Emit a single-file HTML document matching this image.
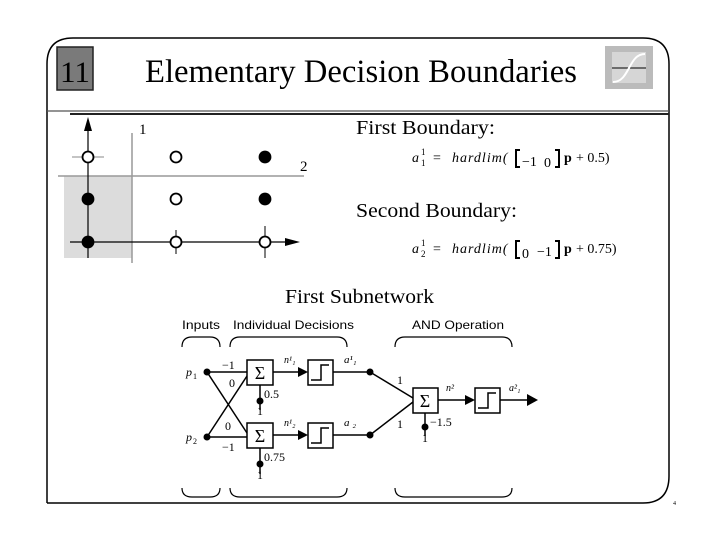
<!DOCTYPE html>
<html><head><style>
body{margin:0;background:#fff;width:720px;height:540px;overflow:hidden}
svg{display:block}
.s{font-family:"Liberation Serif",serif}
.h{font-family:"Liberation Sans",sans-serif}
</style></head><body>
<svg width="720" height="540" viewBox="0 0 720 540">
<!-- frame -->
<path d="M47,503 L47,64 Q47,38 73,38 L643,38 Q669,38 669,64 L669,476 Q669,503 643,503 L47,503" fill="none" stroke="#000" stroke-width="1.5"/>
<line x1="47" y1="111" x2="669" y2="111" stroke="#555" stroke-width="1.2"/>
<line x1="70" y1="114" x2="669" y2="114" stroke="#222" stroke-width="2"/>
<rect x="57" y="47" width="36" height="43" fill="#7a7a7a" stroke="#222" stroke-width="1.5"/>
<text x="75" y="82" class="s" font-size="30" text-anchor="middle" textLength="30" lengthAdjust="spacingAndGlyphs">11</text>
<text x="145" y="82" class="s" font-size="33" textLength="432" lengthAdjust="spacingAndGlyphs">Elementary Decision Boundaries</text>
<rect x="605" y="46" width="48" height="43" fill="#bbb"/>
<rect x="612" y="52" width="34" height="31" fill="#d6d6d6"/>
<line x1="612" y1="68" x2="646" y2="68" stroke="#000"/>
<path d="M613,82 C630,82 628,54 645,54" fill="none" stroke="#fff" stroke-width="2"/>
<!-- plot -->
<rect x="64" y="176" width="68" height="82" fill="#dcdcdc"/>
<line x1="132" y1="133" x2="132" y2="263" stroke="#999" stroke-width="1.5"/>
<line x1="58" y1="176" x2="304" y2="176" stroke="#999" stroke-width="1.5"/>
<line x1="88" y1="258" x2="88" y2="128" stroke="#000" stroke-width="1.2"/>
<polygon points="88,117 84,131 92,131" fill="#000"/>
<line x1="70" y1="242" x2="288" y2="242" stroke="#000" stroke-width="1.2"/>
<polygon points="300,242 285,238 285,246" fill="#000"/>
<line x1="72" y1="157" x2="104" y2="157" stroke="#888"/>
<line x1="176" y1="230" x2="176" y2="254" stroke="#000"/>
<line x1="265" y1="226" x2="265" y2="258" stroke="#000"/>
<g stroke="#000" stroke-width="1.8">
<circle cx="88" cy="157" r="5.5" fill="#fff"/>
<circle cx="176" cy="157" r="5.5" fill="#fff"/>
<circle cx="265" cy="157" r="5.5" fill="#000"/>
<circle cx="88" cy="199" r="5.5" fill="#000"/>
<circle cx="176" cy="199" r="5.5" fill="#fff"/>
<circle cx="265" cy="199" r="5.5" fill="#000"/>
<circle cx="88" cy="242" r="5.5" fill="#000"/>
<circle cx="176" cy="242" r="5.5" fill="#fff"/>
<circle cx="265" cy="242" r="5.5" fill="#fff"/>
</g>
<text x="139" y="134" class="s" font-size="15">1</text>
<text x="300" y="171" class="s" font-size="15">2</text>
<!-- equations -->
<text x="356" y="134" class="s" font-size="20" textLength="139" lengthAdjust="spacingAndGlyphs">First Boundary:</text>
<g class="s" font-size="14">
<text x="412" y="162" font-style="italic">a</text><text x="421" y="155" font-size="9">1</text><text x="421" y="166" font-size="9">1</text>
<text x="433" y="162">=</text>
<text x="452" y="162" font-style="italic" letter-spacing="1">hardlim(</text>
<path d="M520,150 h-4 v17 h4 M555,150 h4 v17 h-4" fill="none" stroke="#000" stroke-width="2"/>
<text x="522" y="166">−1</text><text x="544" y="167">0</text>
<text x="564" y="162" font-weight="bold">p</text><text x="576" y="162">+ 0.5)</text>
</g>
<text x="356" y="217" class="s" font-size="20" textLength="161" lengthAdjust="spacingAndGlyphs">Second Boundary:</text>
<g class="s" font-size="14">
<text x="412" y="253" font-style="italic">a</text><text x="421" y="246" font-size="9">1</text><text x="421" y="257" font-size="9">2</text>
<text x="433" y="253">=</text>
<text x="452" y="253" font-style="italic" letter-spacing="1">hardlim(</text>
<path d="M520,241 h-4 v17 h4 M555,241 h4 v17 h-4" fill="none" stroke="#000" stroke-width="2"/>
<text x="522" y="258">0</text><text x="537" y="256">−1</text>
<text x="564" y="253" font-weight="bold">p</text><text x="576" y="253">+ 0.75)</text>
</g>
<text x="285" y="303" class="s" font-size="20" textLength="149" lengthAdjust="spacingAndGlyphs">First Subnetwork</text>
<!-- network -->
<g class="h" font-size="12">
<text x="182" y="329" textLength="38" lengthAdjust="spacingAndGlyphs">Inputs</text>
<text x="233" y="329" textLength="121" lengthAdjust="spacingAndGlyphs">Individual Decisions</text>
<text x="412" y="329" textLength="92" lengthAdjust="spacingAndGlyphs">AND Operation</text>
</g>
<g fill="none" stroke="#000" stroke-width="1.2">
<path d="M182,347 Q182,337 192,337 L210,337 Q220,337 220,347"/>
<path d="M230,347 Q230,337 240,337 L337,337 Q347,337 347,347"/>
<path d="M395,347 Q395,337 405,337 L502,337 Q512,337 512,347"/>
<path d="M182,488 Q182,497 192,497 L210,497 Q220,497 220,488"/>
<path d="M230,488 Q230,497 240,497 L337,497 Q347,497 347,488"/>
<path d="M395,488 Q395,497 405,497 L502,497 Q512,497 512,488"/>
</g>
<g stroke="#000" stroke-width="1.5" fill="none">
<line x1="207" y1="372" x2="247" y2="372"/>
<line x1="207" y1="437" x2="247" y2="437"/>
<line x1="207" y1="372" x2="247" y2="433"/>
<line x1="207" y1="437" x2="247" y2="376"/>
<line x1="260" y1="385" x2="260" y2="410"/>
<line x1="260" y1="448" x2="260" y2="474"/>
<line x1="273" y1="372" x2="300" y2="372"/>
<line x1="273" y1="435" x2="300" y2="435"/>
<line x1="333" y1="372" x2="370" y2="372"/>
<line x1="333" y1="435" x2="370" y2="435"/>
<line x1="370" y1="372" x2="413" y2="398"/>
<line x1="370" y1="435" x2="413" y2="402"/>
<line x1="425" y1="413" x2="425" y2="436"/>
<line x1="438" y1="400" x2="467" y2="400"/>
<line x1="500" y1="400" x2="530" y2="400"/>
</g>
<g fill="#000">
<polygon points="308,372 298,367 298,377"/>
<polygon points="308,435 298,430 298,440"/>
<polygon points="475,400 465,395 465,405"/>
<polygon points="538,400 527,394 527,406"/>
<circle cx="207" cy="372" r="3.5"/><circle cx="207" cy="437" r="3.5"/>
<circle cx="260" cy="401" r="3.5"/><circle cx="260" cy="464" r="3.5"/>
<circle cx="370" cy="372" r="3.5"/><circle cx="370" cy="435" r="3.5"/>
<circle cx="425" cy="427" r="3.5"/>
</g>
<g stroke="#000" stroke-width="1.5" fill="#fff">
<rect x="247" y="360" width="26" height="25"/>
<rect x="247" y="423" width="26" height="25"/>
<rect x="413" y="388" width="25" height="25"/>
<rect x="308" y="360" width="25" height="25"/>
<rect x="308" y="423" width="25" height="25"/>
<rect x="475" y="388" width="25" height="25"/>
</g>
<g stroke="#000" stroke-width="1.5" fill="none">
<path d="M311,380 h10 v-15 h8"/><path d="M311,443 h10 v-15 h8"/><path d="M478,408 h10 v-15 h8"/>
</g>
<g class="s" font-size="18" text-anchor="middle">
<text x="260" y="379">Σ</text><text x="260" y="442">Σ</text><text x="425" y="407">Σ</text>
</g>
<g class="s" font-size="12">
<text x="186" y="376" font-style="italic">p</text><text x="193" y="379" font-size="8">1</text>
<text x="186" y="441" font-style="italic">p</text><text x="193" y="444" font-size="8">2</text>
<text x="222" y="369">−1</text><text x="229" y="387">0</text>
<text x="225" y="430">0</text><text x="222" y="451">−1</text>
<text x="264" y="398">0.5</text><text x="257" y="415">1</text>
<text x="264" y="461">0.75</text><text x="257" y="479">1</text>
<text x="284" y="363" font-style="italic" font-size="10">n¹₁</text>
<text x="284" y="426" font-style="italic" font-size="10">n¹₂</text>
<text x="344" y="363" font-style="italic" font-size="11">a¹₁</text>
<text x="344" y="426" font-style="italic" font-size="11">a ₂</text>
<text x="397" y="384">1</text><text x="397" y="428">1</text>
<text x="430" y="426">−1.5</text><text x="422" y="442">1</text>
<text x="446" y="391" font-style="italic" font-size="10">n²</text>
<text x="509" y="391" font-style="italic" font-size="10">a²₁</text>
<text x="673" y="505" font-size="6">4</text>
</g>
</svg>
</body></html>
